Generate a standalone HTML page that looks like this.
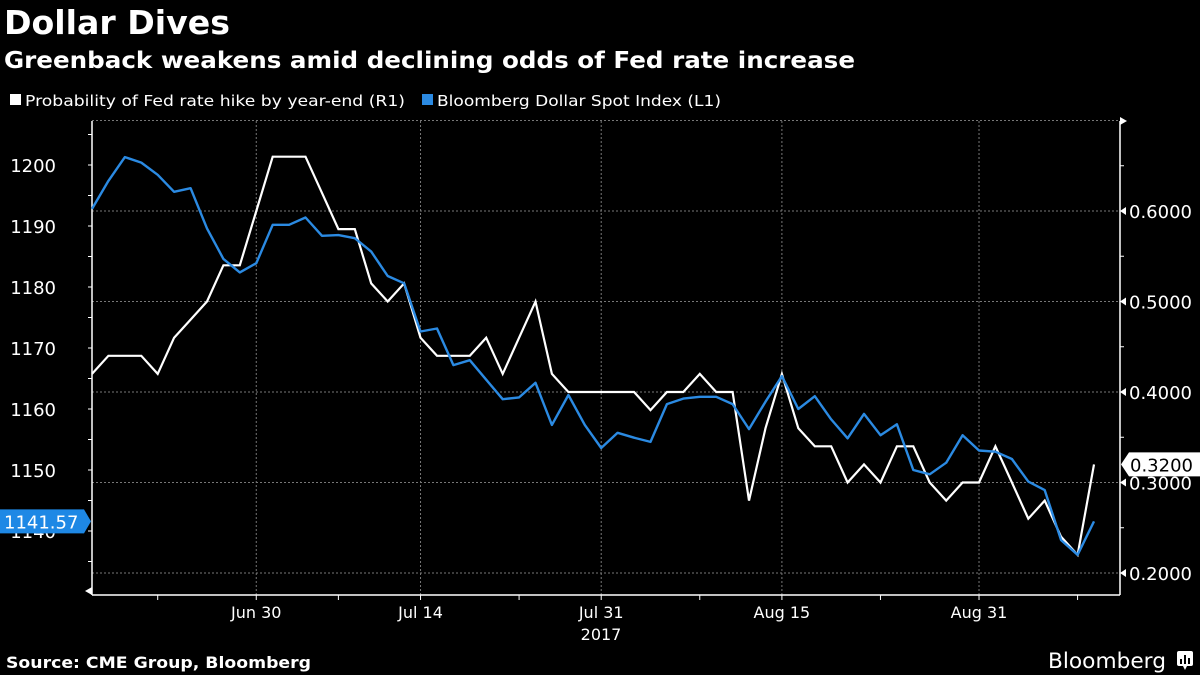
<!DOCTYPE html>
<html><head><meta charset="utf-8"><style>
html,body{margin:0;padding:0;background:#000;}
svg{display:block;font-family:"DejaVu Sans","Liberation Sans",sans-serif;}
</style></head><body>
<svg id="chart" width="1200" height="675" viewBox="0 0 1200 675" xmlns="http://www.w3.org/2000/svg">
<rect x="0" y="0" width="1200" height="675" fill="#000"/>
<text x="4" y="34" fill="#fff" font-weight="bold" font-size="33" textLength="226" lengthAdjust="spacingAndGlyphs">Dollar Dives</text>
<text x="4" y="68" fill="#fff" font-weight="bold" font-size="23" textLength="851" lengthAdjust="spacingAndGlyphs">Greenback weakens amid declining odds of Fed rate increase</text>
<g>
<g>
<rect x="10" y="94" width="11" height="11" fill="#fff"/>
<text x="25" y="106" fill="#fff" font-size="15" textLength="380" lengthAdjust="spacingAndGlyphs">Probability of Fed rate hike by year-end (R1)</text>
</g>
<g>
<rect x="422" y="94" width="11" height="11" fill="#2b8ae2"/>
<text x="437" y="106" fill="#fff" font-size="15" textLength="284" lengthAdjust="spacingAndGlyphs">Bloomberg Dollar Spot Index (L1)</text>
</g>
</g>
<g id="grid"></g>
<g id="axes"></g>
<g id="series"></g>
<g id="labels"></g>
<text x="6" y="668" fill="#fff" font-weight="bold" font-size="16" textLength="305" lengthAdjust="spacingAndGlyphs">Source: CME Group, Bloomberg</text>
<g>
<text x="1048" y="668" fill="#fff" font-size="21" textLength="118" lengthAdjust="spacingAndGlyphs">Bloomberg</text>
<rect x="1177" y="651" width="16" height="15" rx="2" fill="#fff"/>
<path d="M1183,666 L1185,670 L1187,666 Z" fill="#fff"/>
<rect x="1180" y="659" width="2" height="5" fill="#000"/><rect x="1184" y="655" width="2" height="9" fill="#000"/><rect x="1188" y="658" width="2" height="6" fill="#000"/>
</g>
</svg>
<script>
const dollarIndex = [1192.8,1197.4,1201.3,1200.4,1198.4,1195.6,1196.2,1189.6,1184.6,1182.4,1183.9,1190.2,1190.2,1191.4,1188.4,1188.5,1188.0,1185.8,1181.8,1180.6,1172.7,1173.2,1167.2,1168.0,1164.8,1161.6,1161.9,1164.3,1157.4,1162.3,1157.4,1153.6,1156.1,1155.3,1154.6,1160.8,1161.7,1162.0,1162.0,1160.8,1156.7,1161.2,1165.4,1160.0,1162.1,1158.3,1155.2,1159.2,1155.7,1157.5,1150.0,1149.3,1151.2,1155.7,1153.2,1153.0,1151.8,1148.1,1146.7,1138.5,1136.1,1141.57];
const fedProb = [0.42,0.44,0.44,0.44,0.42,0.46,0.48,0.50,0.54,0.54,0.60,0.66,0.66,0.66,0.62,0.58,0.58,0.52,0.50,0.52,0.46,0.44,0.44,0.44,0.46,0.42,0.46,0.50,0.42,0.40,0.40,0.40,0.40,0.40,0.38,0.40,0.40,0.42,0.40,0.40,0.28,0.36,0.42,0.36,0.34,0.34,0.30,0.32,0.30,0.34,0.34,0.30,0.28,0.30,0.30,0.34,0.30,0.26,0.28,0.24,0.22,0.32];
const leftTicks = [1140,1150,1160,1170,1180,1190,1200];
const rightTicks = [0.2,0.3,0.4,0.5,0.6];
const dateLabels = ["Jun 30","Jul 14","Jul 31","Aug 15","Aug 31"];
const dateLabelIndex = [10,20,31,42,54];
const xTickIndex = [4,10,15,20,26,31,37,42,48,54,60];

const NS="http://www.w3.org/2000/svg";
const X0=92, X1=1120, Y0=121, YB=595;
const xStep=(1094-92)/61;
const xOf=i=>X0+i*xStep;
const yL=v=>165+(1200-v)*6.1;
const yR=v=>211+(0.6-v)*905;
function mk(tag,attrs,parent){const e=document.createElementNS(NS,tag);for(const k in attrs)e.setAttribute(k,attrs[k]);parent.appendChild(e);return e;}
const grid=document.getElementById('grid'),axes=document.getElementById('axes'),series=document.getElementById('series'),labels=document.getElementById('labels');

[0.2,0.3,0.4,0.5,0.6,0.7].forEach(v=>{
  const l=mk('line',{x1:X0,x2:X1,y1:yR(v),y2:yR(v),stroke:'#777','stroke-width':1,'stroke-dasharray':'2,2'},grid);
  
  
});
dateLabelIndex.forEach(i=>{
  const l=mk('line',{x1:xOf(i),x2:xOf(i),y1:Y0,y2:YB,stroke:'#777','stroke-width':1,'stroke-dasharray':'2,2'},grid);
  
  
});
mk('line',{x1:X0,x2:X0,y1:Y0,y2:YB,stroke:'#fff','stroke-width':1.5},axes);
mk('line',{x1:X1,x2:X1,y1:Y0,y2:YB,stroke:'#fff','stroke-width':1.5},axes);
mk('line',{x1:X0,x2:X1,y1:YB,y2:YB,stroke:'#fff','stroke-width':1.5},axes);
mk('path',{d:`M${X1},${Y0-4} L${X1+7},${Y0} L${X1},${Y0+4} Z`,fill:'#fff'},axes);
mk('path',{d:`M${X0},${YB-8} L${X0-7},${YB-4} L${X0},${YB} Z`,fill:'#fff'},axes);
for(let v=1135;v<=1205;v+=5){const y=yL(v);if(y<Y0||y>YB)continue;mk('line',{x1:X0-4,x2:X0,y1:y,y2:y,stroke:'#fff'},axes);}
for(let v=0.2;v<=0.701;v+=0.05){mk('line',{x1:X1,x2:X1+4,y1:yR(v),y2:yR(v),stroke:'#fff'},axes);}
xTickIndex.forEach(i=>{mk('line',{x1:xOf(i),x2:xOf(i),y1:YB,y2:YB+5,stroke:'#fff'},axes);});
leftTicks.forEach(v=>{
  const t=mk('text',{x:56,y:yL(v)+7,fill:'#fff','font-size':18,'text-anchor':'end'},labels);
  t.textContent=v;
  
  
});
rightTicks.forEach(v=>{
  mk('path',{d:`M${X1},${yR(v)} L${X1+6},${yR(v)-4} L${X1+6},${yR(v)+4} Z`,fill:'#fff'},axes);
  const t=mk('text',{x:1129,y:yR(v)+7,fill:'#fff','font-size':18},labels);
  t.textContent=v.toFixed(4);
  
  
});
dateLabels.forEach((d,k)=>{
  const t=mk('text',{x:xOf(dateLabelIndex[k]),y:618,fill:'#fff','font-size':16,'text-anchor':'middle'},labels);
  t.textContent=d;
  
  
});
const yr=mk('text',{x:601,y:640,fill:'#fff','font-size':16,'text-anchor':'middle'},labels);
yr.textContent='2017';



const pW=mk('polyline',{points:fedProb.map((v,i)=>xOf(i).toFixed(1)+','+yR(v).toFixed(1)).join(' '),fill:'none',stroke:'#fff','stroke-width':2.2,'stroke-linejoin':'miter'},series);


const pB=mk('polyline',{points:dollarIndex.map((v,i)=>xOf(i).toFixed(1)+','+yL(v).toFixed(1)).join(' '),fill:'none',stroke:'#2b8ae2','stroke-width':2.4,'stroke-linejoin':'round'},series);



const lb=dollarIndex[dollarIndex.length-1], yb=yL(lb);
const gB=mk('g',{},labels);


mk('path',{d:`M0,${yb-12} L84,${yb-12} L91,${yb} L84,${yb+12} L0,${yb+12} Z`,fill:'#1e88e5'},gB);
const tb=mk('text',{x:4,y:yb+7,fill:'#fff','font-size':18},gB);tb.textContent=lb.toFixed(2);
const lw=fedProb[fedProb.length-1], yw=yR(lw);
const gW=mk('g',{},labels);


mk('path',{d:`M1121,${yw} L1129,${yw-12} L1200,${yw-12} L1200,${yw+12} L1129,${yw+12} Z`,fill:'#fff'},gW);
const tw=mk('text',{x:1130,y:yw+7,fill:'#000','font-size':18},gW);tw.textContent=lw.toFixed(4);
</script>
</body></html>
